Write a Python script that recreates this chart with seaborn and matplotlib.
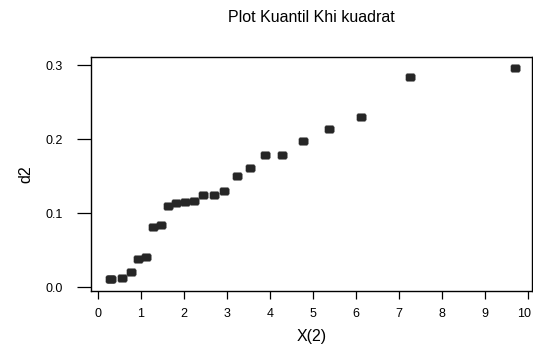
import matplotlib
matplotlib.use("Agg")
import matplotlib.pyplot as plt
import matplotlib.transforms as mtransforms
import seaborn as sns
import pandas as pd

# Data
chi_quantiles = [0.27, 0.30, 0.57, 0.77, 0.93, 1.11, 1.29, 1.46, 1.62, 1.81, 2.02,
                 2.24, 2.44, 2.71, 2.94, 3.23, 3.53, 3.89, 4.28, 4.77, 5.37,
                 6.12, 7.27, 9.70]
d2_values = [0.0104, 0.0104, 0.0117, 0.0207, 0.038, 0.041, 0.0807, 0.0834, 0.109,
             0.113, 0.115, 0.116, 0.124, 0.125, 0.130, 0.1496, 0.161, 0.179,
             0.179, 0.197, 0.2135, 0.230, 0.284, 0.296]
x_ticks = [0, 1, 2, 3, 4, 5, 6, 7, 8, 9, 10]
y_ticks = [0.0, 0.1, 0.2, 0.3]
y_tick_labels = ["0.0", "0.1", "0.2", "0.3"]
title = "Plot Kuantil Khi kuadrat"
x_label = "X(2)"
y_label = "d2"

df = pd.DataFrame({"X": chi_quantiles, "d2": d2_values})

sns.set_theme(style="white")
plt.rcParams["font.family"] = ["Liberation Sans", "DejaVu Sans"]

fig = plt.figure(figsize=(5.33, 3.47), dpi=100)
ax = fig.add_axes([91 / 533, 1 - 291 / 347, 441 / 533, 234 / 347])

marker = [(-1, -0.5), (-0.75, -0.8), (0.75, -0.8), (1, -0.5),
          (1, 0.5), (0.75, 0.8), (-0.75, 0.8), (-1, 0.5)]
sns.scatterplot(data=df, x="X", y="d2", ax=ax, marker=marker, s=48,
                color="#262626", edgecolor="#262626", linewidth=0.2)

ax.set_xlim(-0.163, 10.1)
ax.set_ylim(-0.0054, 0.311)
ax.set_xticks(x_ticks)
ax.set_xticklabels([str(t) for t in x_ticks])
ax.set_yticks(y_ticks)
ax.set_yticklabels(y_tick_labels)

for s in ax.spines.values():
    s.set_visible(True)
    s.set_color("black")
    s.set_linewidth(1.0)

ax.tick_params(axis="x", which="both", direction="out", length=5.5, width=0.9,
               color="black", labelsize=9, pad=7, labelcolor="black", bottom=True)
ax.tick_params(axis="y", which="both", direction="out", length=10, width=0.9,
               color="black", labelsize=9, pad=10, labelcolor="black", left=True)

# keep the last tick label inside the canvas, as in the reference
last = ax.get_xticklabels()[-1]
last.set_transform(last.get_transform() +
                   mtransforms.ScaledTranslation(-4 / 100, 0, fig.dpi_scale_trans))

ax.set_xlabel(x_label, fontsize=11.5, labelpad=6, color="black")
ax.set_ylabel(y_label, fontsize=11.5, labelpad=9, color="black")
fig.text(311 / 533, 1 - 18 / 347, title, ha="center", va="center",
         fontsize=11.5, color="black")

fig.savefig("out.png", dpi=100, facecolor="white")
